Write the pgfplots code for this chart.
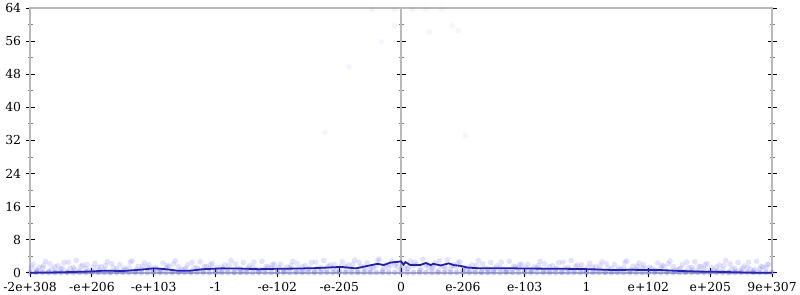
\documentclass[border=0pt]{standalone}
\usepackage{pgfplots}
\pgfplotsset{compat=1.18}
\usepackage{fontspec}
\setmainfont{DejaVu Serif}
\definecolor{axgray}{RGB}{185,185,185}
\definecolor{linenavy}{RGB}{30,30,140}
\definecolor{ptblue}{RGB}{60,60,255}
\pgfplotsset{
  common/.style={
    scale only axis, width=745bp, height=266bp,
    ymin=0, ymax=64,
    tick align=center,
    major tick length=9bp, minor tick length=5bp,
    axis line style={draw=axgray, line width=1.6bp},
    major tick style={black, line width=0.9bp},
    minor tick style={gray, line width=0.8bp},
    tick label style={font=\fontsize{12.5}{14}\selectfont},
    /pgf/number format/assume math mode=true,
  },
  pts/.style={ptblue, only marks, mark=*, mark size=2.9bp, line width=0pt,
    mark options={draw opacity=0, fill opacity=#1}},
}
\begin{document}
\begin{tikzpicture}
% centre axis line (at 0)
\begin{axis}[common,
  xmin=-6, xmax=6,
  axis x line=none, axis y line=center,
  axis line style={-, draw=axgray, line width=1.6bp},
  ytick={0,8,...,64}, minor ytick={4,12,...,60},
  yticklabels={},
]
\end{axis}
\begin{axis}[common,
  xmin=0, xmax=12,
  xtick={0,1,...,12},
  xticklabels={-2e+308,-e+206,-e+103,-1,-e-102,-e-205,0,e-206,e-103,1,e+102,e+205,9e+307},
  ytick={0,8,...,64}, minor ytick={4,12,...,60},
  xtick pos=bottom, ytick pos=both, yticklabel pos=left,
  yticklabel style={xshift=-1bp},
  xticklabel style={yshift=-1bp},
  clip=false,
]
% faint scatter points: upper cloud
\addplot[pts=0.14] coordinates {
(0.05,2.1)(0.15,1.4)(0.25,2.8)(0.35,0.9)(0.45,1.7)(0.55,2.5)(0.65,1.1)(0.75,3.0)(0.85,1.9)(0.95,0.6)
(1.05,2.3)(1.15,1.5)(1.25,2.7)(1.35,1.2)(1.45,2.0)(1.55,0.8)(1.65,2.9)(1.75,1.6)(1.85,2.4)(1.95,1.0)
(2.05,1.0)(2.15,2.4)(2.25,1.6)(2.35,2.9)(2.45,0.8)(2.55,2.0)(2.65,1.2)(2.75,2.7)(2.85,1.5)(2.95,2.3)
(3.05,0.6)(3.15,1.9)(3.25,3.0)(3.35,1.1)(3.45,2.5)(3.55,1.7)(3.65,0.9)(3.75,2.8)(3.85,1.4)(3.95,2.1)
(4.05,2.1)(4.15,1.4)(4.25,2.8)(4.35,0.9)(4.45,1.7)(4.55,2.5)(4.65,1.1)(4.75,3.0)(4.85,1.9)(4.95,0.6)
(5.05,2.7)(5.15,1.9)(5.25,3.1)(5.35,1.6)(5.45,2.4)(5.55,1.2)(5.65,3.3)(5.75,2.0)(5.85,2.8)(5.95,1.4)
(6.05,1.4)(6.15,2.8)(6.25,2.0)(6.35,3.3)(6.45,1.2)(6.55,2.4)(6.65,1.6)(6.75,3.1)(6.85,1.9)(6.95,2.7)
(7.05,0.6)(7.15,1.9)(7.25,3.0)(7.35,1.1)(7.45,2.5)(7.55,1.7)(7.65,0.9)(7.75,2.8)(7.85,1.4)(7.95,2.1)
(8.05,2.1)(8.15,1.4)(8.25,2.8)(8.35,0.9)(8.45,1.7)(8.55,2.5)(8.65,1.1)(8.75,3.0)(8.85,1.9)(8.95,0.6)
(9.05,2.3)(9.15,1.5)(9.25,2.7)(9.35,1.2)(9.45,2.0)(9.55,0.8)(9.65,2.9)(9.75,1.6)(9.85,2.4)(9.95,1.0)
(10.05,1.0)(10.15,2.4)(10.25,1.6)(10.35,2.9)(10.45,0.8)(10.55,2.0)(10.65,1.2)(10.75,2.7)(10.85,1.5)(10.95,2.3)
(11.05,0.6)(11.15,1.9)(11.25,3.0)(11.35,1.1)(11.45,2.5)(11.55,1.7)(11.65,0.9)(11.75,2.8)(11.85,1.4)(11.95,2.1)
};
% second cloud layer
\addplot[pts=0.14] coordinates {
(0.02,1.3)(0.12,0.5)(0.22,1.8)(0.32,2.2)(0.42,0.4)(0.52,1.1)(0.62,2.6)(0.72,0.8)(0.82,1.6)(0.92,2.0)
(1.02,1.3)(1.12,0.5)(1.22,1.8)(1.32,2.2)(1.42,0.4)(1.52,1.1)(1.62,2.6)(1.72,0.8)(1.82,1.6)(1.92,2.0)
(2.02,1.3)(2.12,0.5)(2.22,1.8)(2.32,2.2)(2.42,0.4)(2.52,1.1)(2.62,2.6)(2.72,0.8)(2.82,1.6)(2.92,2.0)
(3.02,1.3)(3.12,0.5)(3.22,1.8)(3.32,2.2)(3.42,0.4)(3.52,1.1)(3.62,2.6)(3.72,0.8)(3.82,1.6)(3.92,2.0)
(4.02,1.3)(4.12,0.5)(4.22,1.8)(4.32,2.2)(4.42,0.4)(4.52,1.1)(4.62,2.6)(4.72,0.8)(4.82,1.6)(4.92,2.0)
(5.02,1.5)(5.12,0.7)(5.22,2.1)(5.32,2.6)(5.42,0.8)(5.52,1.5)(5.62,3.0)(5.72,1.2)(5.82,2.0)(5.92,2.4)
(6.02,2.3)(6.12,1.2)(6.22,2.6)(6.32,1.0)(6.42,2.1)(6.52,1.4)(6.62,2.9)(6.72,0.9)(6.82,1.8)(6.92,2.4)
(7.02,1.3)(7.12,0.5)(7.22,1.8)(7.32,2.2)(7.42,0.4)(7.52,1.1)(7.62,2.6)(7.72,0.8)(7.82,1.6)(7.92,2.0)
(8.02,1.3)(8.12,0.5)(8.22,1.8)(8.32,2.2)(8.42,0.4)(8.52,1.1)(8.62,2.6)(8.72,0.8)(8.82,1.6)(8.92,2.0)
(9.02,1.3)(9.12,0.5)(9.22,1.8)(9.32,2.2)(9.42,0.4)(9.52,1.1)(9.62,2.6)(9.72,0.8)(9.82,1.6)(9.92,2.0)
(10.02,1.3)(10.12,0.5)(10.22,1.8)(10.32,2.2)(10.42,0.4)(10.52,1.1)(10.62,2.6)(10.72,0.8)(10.82,1.6)(10.92,2.0)
(11.02,1.3)(11.12,0.5)(11.22,1.8)(11.32,2.2)(11.42,0.4)(11.52,1.1)(11.62,2.6)(11.72,0.8)(11.82,1.6)(11.92,2.0)
};
% middle cloud
\addplot[pts=0.14] coordinates {
(0.1,0.7)(0.2,1.2)(0.3,0.4)(0.4,1.5)(0.5,0.9)(0.6,0.3)(0.7,1.3)(0.8,0.6)(0.9,1.1)(1.0,0.5)
(1.1,1.4)(1.2,0.8)(1.3,0.2)(1.4,1.0)(1.5,0.6)(1.6,1.3)(1.7,0.4)(1.8,0.9)(1.9,1.2)(2.0,0.5)
(2.1,0.7)(2.2,1.2)(2.3,0.4)(2.4,1.5)(2.5,0.9)(2.6,0.3)(2.7,1.3)(2.8,0.6)(2.9,1.1)(3.0,0.5)
(3.1,1.4)(3.2,0.8)(3.3,0.2)(3.4,1.0)(3.5,0.6)(3.6,1.3)(3.7,0.4)(3.8,0.9)(3.9,1.2)(4.0,0.5)
(4.1,0.7)(4.2,1.2)(4.3,0.4)(4.4,1.5)(4.5,0.9)(4.6,0.3)(4.7,1.3)(4.8,0.6)(4.9,1.1)(5.0,0.5)
(5.1,1.6)(5.2,1.0)(5.3,0.4)(5.4,1.4)(5.5,0.8)(5.6,1.7)(5.7,0.6)(5.8,1.3)(5.9,1.8)(6.0,0.9)
(6.1,1.1)(6.2,1.8)(6.3,0.6)(6.4,1.9)(6.5,1.3)(6.6,0.5)(6.7,1.6)(6.8,0.9)(6.9,1.4)(7.0,0.8)
(7.1,1.4)(7.2,0.8)(7.3,0.2)(7.4,1.0)(7.5,0.6)(7.6,1.3)(7.7,0.4)(7.8,0.9)(7.9,1.2)(8.0,0.5)
(8.1,0.7)(8.2,1.2)(8.3,0.4)(8.4,1.5)(8.5,0.9)(8.6,0.3)(8.7,1.3)(8.8,0.6)(8.9,1.1)(9.0,0.5)
(9.1,1.4)(9.2,0.8)(9.3,0.2)(9.4,1.0)(9.5,0.6)(9.6,1.3)(9.7,0.4)(9.8,0.9)(9.9,1.2)(10.0,0.5)
(10.1,0.7)(10.2,1.2)(10.3,0.4)(10.4,1.5)(10.5,0.9)(10.6,0.3)(10.7,1.3)(10.8,0.6)(10.9,1.1)(11.0,0.5)
(11.1,1.4)(11.2,0.8)(11.3,0.2)(11.4,1.0)(11.5,0.6)(11.6,1.3)(11.7,0.4)(11.8,0.9)(11.9,1.2)
};
% points on the floor
\addplot[pts=0.25] coordinates {
(0.0,0.1)(0.1,0.1)(0.2,0.1)(0.3,0.1)(0.4,0.1)(0.5,0.1)(0.6,0.1)(0.7,0.1)(0.8,0.1)(0.9,0.1)
(1.0,0.1)(1.1,0.1)(1.2,0.1)(1.3,0.1)(1.4,0.1)(1.5,0.1)(1.6,0.1)(1.7,0.1)(1.8,0.1)(1.9,0.1)
(2.0,0.1)(2.1,0.1)(2.2,0.1)(2.3,0.1)(2.4,0.1)(2.5,0.1)(2.6,0.1)(2.7,0.1)(2.8,0.1)(2.9,0.1)
(3.0,0.1)(3.1,0.1)(3.2,0.1)(3.3,0.1)(3.4,0.1)(3.5,0.1)(3.6,0.1)(3.7,0.1)(3.8,0.1)(3.9,0.1)
(4.0,0.1)(4.1,0.1)(4.2,0.1)(4.3,0.1)(4.4,0.1)(4.5,0.1)(4.6,0.1)(4.7,0.1)(4.8,0.1)(4.9,0.1)
(5.0,0.1)(5.1,0.1)(5.2,0.1)(5.3,0.1)(5.4,0.1)(5.5,0.1)(5.6,0.1)(5.7,0.1)(5.8,0.1)(5.9,0.1)
(6.0,0.1)(6.1,0.1)(6.2,0.1)(6.3,0.1)(6.4,0.1)(6.5,0.1)(6.6,0.1)(6.7,0.1)(6.8,0.1)(6.9,0.1)
(7.0,0.1)(7.1,0.1)(7.2,0.1)(7.3,0.1)(7.4,0.1)(7.5,0.1)(7.6,0.1)(7.7,0.1)(7.8,0.1)(7.9,0.1)
(8.0,0.1)(8.1,0.1)(8.2,0.1)(8.3,0.1)(8.4,0.1)(8.5,0.1)(8.6,0.1)(8.7,0.1)(8.8,0.1)(8.9,0.1)
(9.0,0.1)(9.1,0.1)(9.2,0.1)(9.3,0.1)(9.4,0.1)(9.5,0.1)(9.6,0.1)(9.7,0.1)(9.8,0.1)(9.9,0.1)
(10.0,0.1)(10.1,0.1)(10.2,0.1)(10.3,0.1)(10.4,0.1)(10.5,0.1)(10.6,0.1)(10.7,0.1)(10.8,0.1)(10.9,0.1)
(11.0,0.1)(11.1,0.1)(11.2,0.1)(11.3,0.1)(11.4,0.1)(11.5,0.1)(11.6,0.1)(11.7,0.1)(11.8,0.1)(11.9,0.1)(12.0,0.1)
};
% outliers
\addplot[pts=0.05] coordinates {
(5.525,63.6)(5.896,63.6)(6.186,63.6)(6.395,63.6)(6.653,63.6)
(5.896,59.7)(6.459,58.2)(6.830,59.7)(6.927,58.5)
(5.686,55.8)(5.155,49.8)(4.768,33.9)(7.039,33.2)
};
% mean line
\addplot[linenavy, line width=1.8bp, no marks] coordinates {
(0,0.05)(0.5,0.15)(1.0,0.35)(1.2,0.55)(1.5,0.45)(1.8,0.8)(2.0,1.1)(2.2,0.9)(2.4,0.5)(2.6,0.55)
(2.8,0.9)(3.1,1.1)(3.4,1.05)(3.7,0.9)(4.0,1.0)(4.3,1.05)(4.6,1.15)(5.03,1.45)(5.27,1.1)(5.46,1.7)
(5.62,2.2)(5.72,1.9)(5.83,2.5)(5.96,2.7)(6.0,2.8)(6.04,2.0)(6.07,2.6)(6.15,1.9)(6.31,1.9)(6.40,2.4)
(6.48,1.9)(6.52,2.2)(6.64,1.8)(6.77,2.3)(6.85,1.9)(6.96,1.7)(7.07,1.3)(7.28,1.1)(7.60,1.15)(8.09,1.05)
(8.62,1.0)(9.05,0.9)(9.42,0.7)(9.70,0.75)(10.18,0.7)(10.5,0.48)(10.82,0.32)(11.15,0.25)(11.63,0.08)(12,0.02)
};
\end{axis}
\end{tikzpicture}
\end{document}
